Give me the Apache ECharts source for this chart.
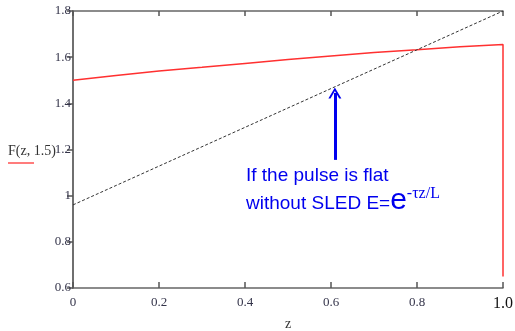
<!DOCTYPE html>
<html><head><meta charset="utf-8">
<script src="https://cdn.jsdelivr.net/npm/echarts@6/dist/echarts.min.js"></script>
<style>html,body{margin:0;padding:0;background:#fff}#c{width:515px;height:331px}</style>
</head><body><div id="c"></div>
<script>
const zValues = [0, 0.1, 0.2, 0.3, 0.4, 0.5, 0.6, 0.7, 0.8, 0.9, 1.0, 1.0];
const fValues = [1.50, 1.521, 1.540, 1.556, 1.573, 1.590, 1.605, 1.620, 1.632, 1.645, 1.655, 0.65];
const flatZ = [0, 1];
const flatE = [0.96, 1.8];
const arrowZ = [0.609, 0.609];
const arrowY = [1.155, 1.445];
const xTicks = [0, 0.2, 0.4, 0.6, 0.8, 1.0];
const yTicks = [0.6, 0.8, 1, 1.2, 1.4, 1.6, 1.8];

const chart = echarts.init(document.getElementById('c'));
const axisLine = {lineStyle:{color:'#666', width:1.5}};
const serif = 'Liberation Serif';
chart.setOption({
  animation:false,
  grid:{left:73, right:12, top:11, bottom:43, containLabel:false, outerBoundsMode:'none'},
  xAxis:[{
    type:'value', min:0, max:1, interval:0.2, position:'bottom',
    axisLine:axisLine, axisTick:{inside:true, length:6, lineStyle:{color:'#555', width:1.5}},
    splitLine:{show:false},
    axisLabel:{fontFamily:serif, fontSize:13, color:'#34344a', margin:8,
      formatter:v => v===1 ? '{b|1.0}' : (v===0 ? '0' : v.toFixed(1)),
      rich:{b:{fontFamily:serif, fontSize:16, color:'#111'}}},
    name:'z', nameLocation:'middle', nameGap:28,
    nameTextStyle:{fontFamily:serif, fontSize:14, color:'#333'}
  },{
    type:'value', min:0, max:1, interval:0.2, position:'top',
    axisLine:axisLine, axisTick:{inside:true, length:5, lineStyle:{color:'#555', width:1.5}},
    axisLabel:{show:false}, splitLine:{show:false}
  }],
  yAxis:[{
    type:'value', min:0.6, max:1.8, interval:0.2, position:'left',
    axisLine:axisLine, axisTick:{inside:false, length:4, lineStyle:{color:'#555', width:1.5}},
    splitLine:{show:false},
    axisLabel:{fontFamily:serif, fontSize:13, color:'#34344a', margin:2,
      formatter:v => String(yTicks.find(t => Math.abs(t-v)<1e-9) ?? v)}
  },{
    type:'value', min:0.6, max:1.8, interval:0.2, position:'right',
    axisLine:axisLine, axisTick:{inside:true, length:6, lineStyle:{color:'#555', width:1.5}},
    axisLabel:{show:false}, splitLine:{show:false}
  }],
  series:[{
    type:'line', symbol:'none', z:3,
    data:zValues.map((z,i)=>[z,fValues[i]]),
    lineStyle:{color:'#ff3030', width:1.5}
  },{
    type:'line', symbol:'none', z:4,
    data:flatZ.map((z,i)=>[z,flatE[i]]),
    lineStyle:{color:'#333', width:1, type:[3,2]}
  },{
    type:'line', symbol:'none', z:5, data:[],
    markLine:{
      silent:true, symbol:['none','path://M0,0 L6,10 L4,10 L0,3.2 L-4,10 L-6,10 Z'],
      symbolSize:[13,11],
      lineStyle:{color:'#0000ee', width:3, type:'solid'},
      label:{show:false},
      data:[[{coord:[arrowZ[0],arrowY[0]]},{coord:[arrowZ[1],arrowY[1]]}]]
    }
  }],
  graphic:[
    {type:'text', left:8, top:144, style:{text:'F(z, 1.5)', font:'14px "Liberation Serif"', fill:'#333'}},
    {type:'line', shape:{x1:8, y1:163, x2:34, y2:163}, style:{stroke:'#ff5050', lineWidth:1.5}},
    {type:'text', left:246, top:166, style:{text:'If the pulse is flat', font:'19px "Liberation Sans"', fill:'#0000ee'}},
    {type:'text', left:246, top:186, style:{
      text:'{a|without SLED E=}{e|e}{s|-τz/L}',
      rich:{
        a:{font:'19px "Liberation Sans"', fill:'#0000ee', verticalAlign:'bottom', lineHeight:30, padding:[0,0,3,0]},
        e:{font:'30px "Liberation Sans"', fill:'#0000ee', verticalAlign:'bottom', lineHeight:30},
        s:{font:'16px "Liberation Serif"', fill:'#0000ee', verticalAlign:'top', lineHeight:30, padding:[0,0,12,0]}
      }}}
  ]
});
</script></body></html>
